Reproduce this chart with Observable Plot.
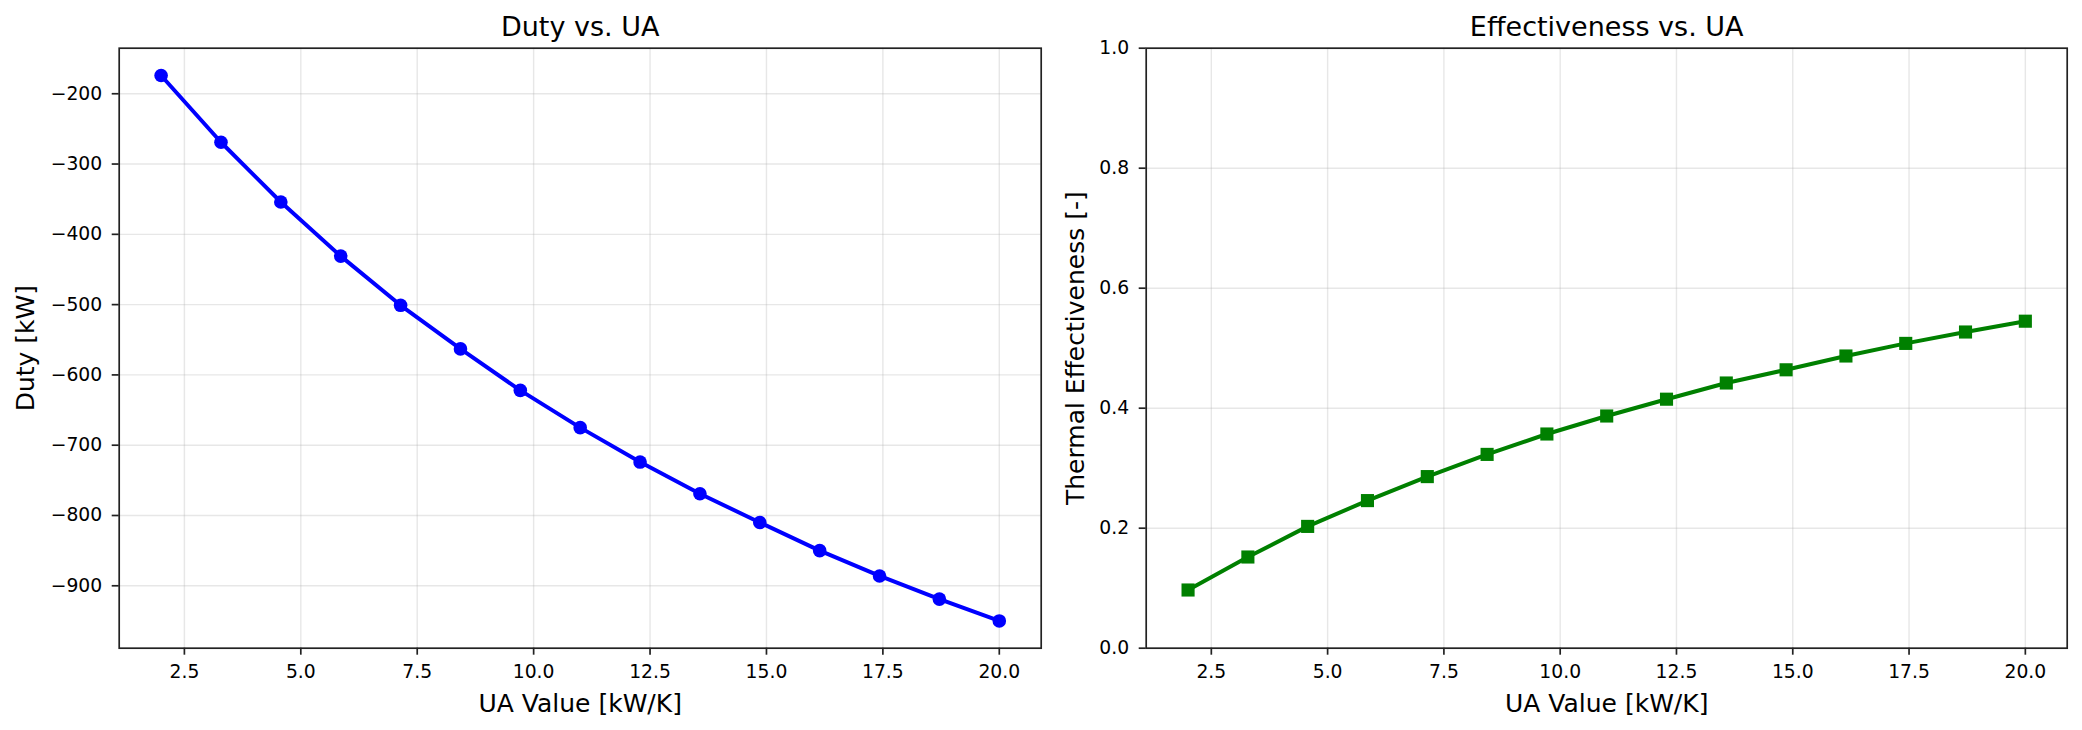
<!DOCTYPE html>
<html><head><meta charset="utf-8">
<script src="https://cdn.jsdelivr.net/npm/d3@7"></script>
<script src="https://cdn.jsdelivr.net/npm/@observablehq/plot@0.6"></script>
<style>
html,body{margin:0;padding:0;background:#fff;}
#chart{position:relative;width:2082px;height:730px;overflow:hidden;background:#fff;}
#chart svg{position:absolute;top:0;}
</style></head><body><div id="chart"></div>
<script>
// ---- data ----
const uaValues = [2, 3.286, 4.571, 5.857, 7.143, 8.429, 9.714, 11, 12.286, 13.571, 14.857, 16.143, 17.429, 18.714, 20];
const dutyKW = [-174, -269, -354, -431, -501, -563, -622, -675, -724, -769, -810, -850, -886, -919, -950];
const effectiveness = [0.097, 0.152, 0.203, 0.246, 0.286, 0.323, 0.357, 0.387, 0.415, 0.442, 0.464, 0.487, 0.508, 0.527, 0.545];
const xTicks = [2.5, 5, 7.5, 10, 12.5, 15, 17.5, 20];
const dutyTicks = [-900, -800, -700, -600, -500, -400, -300, -200];
const effTicks = [0, 0.2, 0.4, 0.6, 0.8, 1.0];
const effDomain = [0, 1];
const titles = ["Duty vs. UA", "Effectiveness vs. UA"];
const xLabel = "UA Value [kW/K]";
const yLabels = ["Duty [kW]", "Thermal Effectiveness [-]"];

const rows = uaValues.map((ua, i) => ({ua, duty: dutyKW[i], eff: effectiveness[i]}));
function pad(ext) { const r = ext[1] - ext[0]; return [ext[0] - 0.05 * r, ext[1] + 0.05 * r]; }
const minus = d3.format("d");

function panel(o) {
  return Plot.plot({
    width: o.width, height: 730,
    marginLeft: o.marginLeft, marginRight: o.marginRight, marginTop: 47.7, marginBottom: 82.3,
    style: {fontFamily: "'DejaVu Sans', sans-serif", fontSize: "18.75px", color: "#000", background: "transparent", overflow: "visible"},
    x: {domain: pad(d3.extent(uaValues))},
    y: {domain: o.yDomain},
    marks: [
      Plot.gridX(xTicks, {stroke: "#b0b0b0", strokeOpacity: 0.3, strokeWidth: 1.4}),
      Plot.gridY(o.yTicks, {stroke: "#b0b0b0", strokeOpacity: 0.3, strokeWidth: 1.4}),
      Plot.line(rows, {x: "ua", y: o.yKey, stroke: o.color, strokeWidth: 4}),
      Plot.dot(rows, {x: "ua", y: o.yKey, fill: o.color, symbol: o.symbol, r: o.r}),
      Plot.axisX(xTicks, {tickFormat: d => d.toFixed(1), tickSize: 7, tickPadding: 9, stroke: "#222", strokeWidth: 1.7, label: null}),
      Plot.axisY(o.yTicks, {tickFormat: o.yFmt, tickSize: 7, tickPadding: 10, stroke: "#222", strokeWidth: 1.7, label: null}),
      Plot.frame({stroke: "#222", strokeWidth: 1.7}),
      Plot.text([o.title], {frameAnchor: "top", lineAnchor: "bottom", textAnchor: "middle", dy: -12.5, fontSize: 27, fill: "#000"}),
      Plot.text([xLabel], {frameAnchor: "bottom", lineAnchor: "bottom", textAnchor: "middle", dy: 63.3, fontSize: 25, fill: "#000"}),
      Plot.text([o.yLabel], {frameAnchor: "left", lineAnchor: "bottom", textAnchor: "middle", rotate: -90, dx: o.yLabelDx, fontSize: 25, fill: "#000"})
    ]
  });
}

const left = panel({
  width: 1060, marginLeft: 118.7, marginRight: 19.3,
  yKey: "duty", yDomain: pad(d3.extent(dutyKW)), yTicks: dutyTicks, yFmt: minus,
  color: "#0000ff", symbol: "circle", r: 6.8,
  title: titles[0], yLabel: yLabels[0], yLabelDx: -85.4
});
left.style.left = "0px";

const right = panel({
  width: 1032, marginLeft: 95.7, marginRight: 15.3,
  yKey: "eff", yDomain: effDomain, yTicks: effTicks, yFmt: d => d.toFixed(1),
  color: "#008000", symbol: "square", r: 7.4,
  title: titles[1], yLabel: yLabels[1], yLabelDx: -62.4
});
right.style.left = "1050px";

document.getElementById("chart").append(left, right);
</script></body></html>
